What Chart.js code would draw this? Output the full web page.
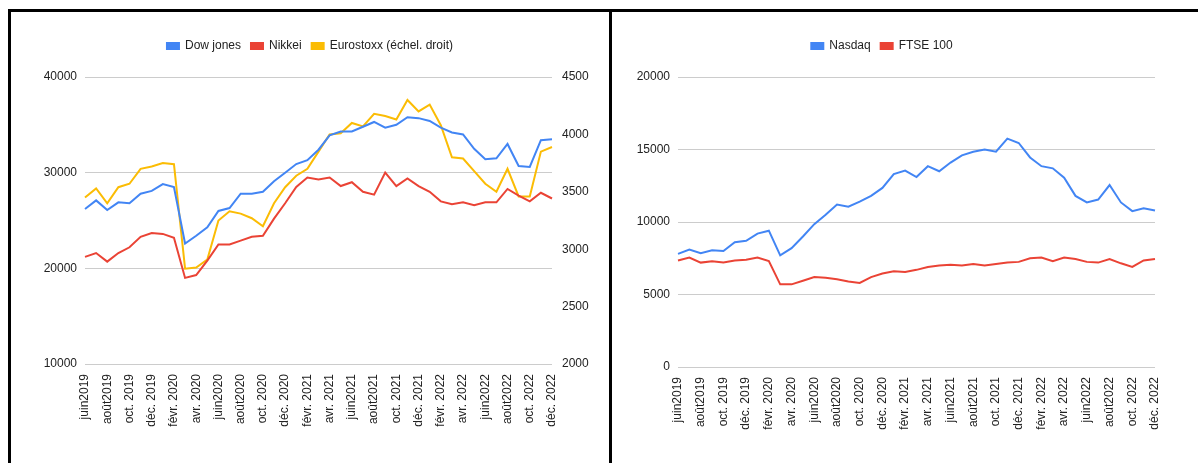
<!DOCTYPE html>
<html><head><meta charset="utf-8">
<script src="https://cdn.jsdelivr.net/npm/chart.js@4"></script>
<style>
body{margin:0;background:#fff;width:1198px;height:463px;overflow:hidden;position:relative;font-family:"Liberation Sans",Arial,sans-serif}
#p1{position:absolute;left:8px;top:9px;width:598px;height:454px;border-left:3px solid #000;border-top:3px solid #000;border-right:3px solid #000;}
#p2{position:absolute;left:609px;top:9px;width:589px;height:454px;border-top:3px solid #000;}
.c{position:absolute;left:0;top:0;}
</style></head><body>
<div id="p1"><canvas id="c1" class="c"></canvas></div>
<div id="p2"><canvas id="c2" class="c"></canvas></div>
<script>
const months=["juin2019","juil.2019","août2019","sept.2019","oct. 2019","nov. 2019","déc. 2019","janv. 2020","févr. 2020","mars 2020","avr. 2020","mai 2020","juin2020","juil. 2020","août2020","sept. 2020","oct. 2020","nov. 2020","déc. 2020","janv. 2021","févr. 2021","mars 2021","avr. 2021","mai 2021","juin2021","juil. 2021","août2021","sept. 2021","oct. 2021","nov. 2021","déc. 2021","janv. 2022","févr. 2022","mars 2022","avr. 2022","mai 2022","juin2022","juil. 2022","août2022","sept. 2022","oct. 2022","nov. 2022","déc. 2022"];
const dowJones=[26200,27100,26100,26900,26800,27800,28100,28800,28500,22600,23400,24300,26000,26300,27800,27800,28000,29100,30000,30900,31300,32400,33900,34300,34300,34800,35300,34700,35000,35800,35700,35400,34700,34200,34000,32500,31400,31500,33000,30700,30600,33400,33500];
const nikkei=[21200,21600,20700,21600,22200,23300,23700,23600,23200,19000,19300,20800,22500,22500,22900,23300,23400,25200,26800,28500,29500,29300,29500,28600,29000,28000,27700,30000,28600,29400,28600,28000,27000,26700,26900,26600,26900,26900,28300,27600,27000,27900,27300];
const eurostoxx=[3450,3530,3400,3540,3570,3700,3720,3750,3740,2830,2840,2910,3250,3330,3310,3270,3200,3400,3540,3640,3700,3850,4000,4010,4100,4070,4180,4160,4130,4300,4200,4260,4080,3800,3790,3680,3570,3500,3700,3460,3460,3850,3890];
const nasdaq=[7800,8100,7850,8050,8000,8600,8700,9200,9400,7700,8200,9000,9850,10500,11200,11050,11400,11800,12350,13300,13550,13100,13850,13500,14100,14600,14850,15000,14850,15750,15450,14450,13850,13700,13050,11800,11350,11550,12550,11350,10750,10950,10800];
const ftse=[7350,7550,7200,7300,7200,7350,7400,7550,7300,5700,5700,5950,6200,6150,6050,5900,5800,6200,6450,6600,6550,6700,6900,7000,7050,7000,7100,7000,7100,7200,7250,7500,7550,7300,7550,7450,7250,7200,7450,7150,6900,7350,7450];
const BLUE="#4285f4",RED="#ea4335",YEL="#fbbc04";
Chart.defaults.font.family='"Liberation Sans", Arial, sans-serif';
Chart.defaults.font.size=12;
Chart.defaults.color="#222";
Chart.register({id:"legendGap",beforeLayout(chart){const L=chart.legend;if(L&&!L._gapWrapped){const f=L.fit;L.fit=function(){f.apply(this,arguments);this.height+=15;};L._gapWrapped=true;}}});
function ds(label,data,color,axis){return {label,data,borderColor:color,backgroundColor:color,borderWidth:2,pointRadius:0,tension:0,yAxisID:axis};}
function xAxis(h){return {grid:{display:false},border:{display:false},
 ticks:{autoSkip:false,maxRotation:90,minRotation:90,padding:2,font:{size:12},callback:(v,i)=>i%2===0?months[i]:""},
 afterFit:s=>{s.height=h;}};}
const legendOpt={display:true,position:"top",labels:{boxWidth:12,boxHeight:6,padding:10,font:{size:12}}};
const plain=v=>String(v);
function pad(w){return s=>{s.width=w;};}
const c1=document.getElementById("c1");c1.width=598;c1.height=451;c1.style.width="598px";c1.style.height="451px";
new Chart(c1,{type:"line",data:{labels:months,datasets:[ds("Dow jones",dowJones,BLUE,"y"),ds("Nikkei",nikkei,RED,"y"),ds("Eurostoxx (échel. droit)",eurostoxx,YEL,"y1")]},
options:{responsive:false,animation:false,layout:{padding:{top:18,right:0,left:0,bottom:0}},
 plugins:{legend:legendOpt,tooltip:{enabled:false}},
 scales:{x:xAxis(99),
  y:{position:"left",min:10000,max:40000,ticks:{stepSize:10000,padding:8,callback:plain},grid:{color:"#ccc",drawTicks:false},border:{display:false},afterFit:pad(74)},
  y1:{position:"right",min:2000,max:4500,ticks:{stepSize:500,padding:10,callback:plain},grid:{display:false,drawTicks:false},border:{display:false},afterFit:pad(57)}}}});
const c2=document.getElementById("c2");c2.width=589;c2.height=451;c2.style.width="589px";c2.style.height="451px";
new Chart(c2,{type:"line",data:{labels:months,datasets:[ds("Nasdaq",nasdaq,BLUE,"y"),ds("FTSE 100",ftse,RED,"y")]},
options:{responsive:false,animation:false,layout:{padding:{top:18,right:43,left:0,bottom:0}},
 plugins:{legend:legendOpt,tooltip:{enabled:false}},
 scales:{x:xAxis(96),
  y:{min:0,max:20000,ticks:{stepSize:5000,padding:8,callback:plain},grid:{color:"#ccc",drawTicks:false},border:{display:false},afterFit:pad(69)}}}});
</script></body></html>
